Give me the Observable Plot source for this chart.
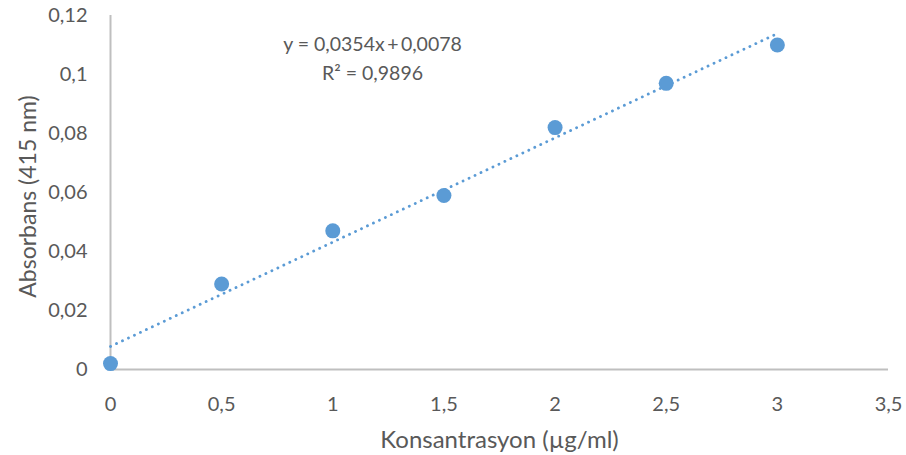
<!DOCTYPE html>
<html>
<head>
<meta charset="utf-8">
<script src="https://cdn.jsdelivr.net/npm/d3@7"></script>
<script src="https://cdn.jsdelivr.net/npm/@observablehq/plot@0.6"></script>
<style>
  html, body { margin: 0; padding: 0; background: #fff; }
  #chart svg { display: block; }
</style>
</head>
<body>
<div id="chart"></div>
<script>
const concentrations = [0, 0.5, 1, 1.5, 2, 2.5, 3];
const absorbances = [0.002, 0.029, 0.047, 0.059, 0.082, 0.097, 0.110];
const xTicks = [0, 0.5, 1, 1.5, 2, 2.5, 3, 3.5];
const yTicks = [0, 0.02, 0.04, 0.06, 0.08, 0.1, 0.12];
const equationLines = ["y = 0,0354x\u2009+\u20090,0078", "R² = 0,9896"];
const xLabel = "Konsantrasyon (µg/ml)";
const yLabel = "Absorbans (415 nm)";

const data = concentrations.map((x, i) => ({x, y: absorbances[i]}));
const comma = d => String(d).replace(".", ",");
const textColor = "#595959";
const axisColor = "#bfbfbf";
const pointColor = "#5b9bd5";

const plot = Plot.plot({
  width: 906,
  height: 455,
  marginLeft: 110,
  marginRight: 18,
  marginTop: 15,
  marginBottom: 86,
  style: {fontFamily: "Lato, 'Open Sans', sans-serif", fontSize: "20px", color: textColor, background: "#fff"},
  x: {domain: [0, 3.5], ticks: xTicks, tickFormat: comma, label: null},
  y: {domain: [0, 0.12], ticks: yTicks, tickFormat: comma, label: null},
  marks: [
    Plot.axisX({ticks: xTicks, tickFormat: comma, tickSize: 0, tickPadding: 27, fill: textColor, fontSize: 20, label: null}),
    Plot.axisY({ticks: yTicks, tickFormat: comma, tickSize: 0, tickPadding: 23, fill: textColor, fontSize: 20, label: null}),
    Plot.ruleY([0], {stroke: axisColor, strokeWidth: 2}),
    Plot.ruleX([0], {stroke: axisColor, strokeWidth: 2}),
    Plot.linearRegressionY(data, {x: "x", y: "y", ci: 0, stroke: pointColor, strokeWidth: 2.8, strokeDasharray: "0.1,6.5", strokeLinecap: "round"}),
    Plot.dot(data, {x: "x", y: "y", r: 7.5, fill: pointColor, stroke: "none"}),
    Plot.text([equationLines.join("\n")], {frameAnchor: "top-left", dx: 262, dy: 41, textAnchor: "middle", lineAnchor: "middle", lineHeight: 1.5, fill: textColor, fontSize: 19.5}),
    Plot.text([xLabel], {frameAnchor: "bottom", dy: 71, textAnchor: "middle", lineAnchor: "middle", fill: textColor, fontSize: 24}),
    Plot.text([yLabel], {frameAnchor: "left", dx: -82, dy: 4, textAnchor: "middle", lineAnchor: "middle", rotate: -90, fill: textColor, fontSize: 23})
  ]
});
document.getElementById("chart").append(plot);
</script>
</body>
</html>
